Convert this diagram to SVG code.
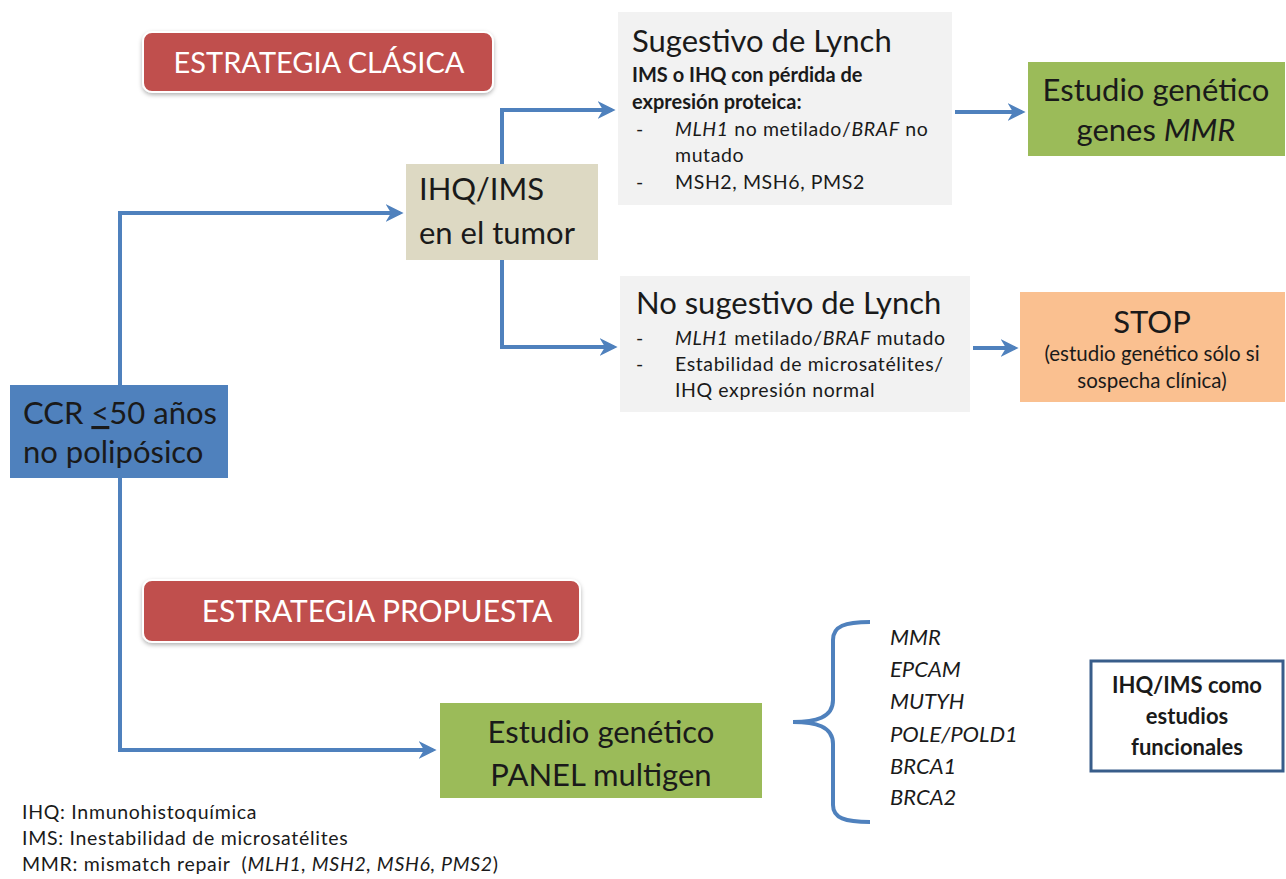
<svg xmlns="http://www.w3.org/2000/svg" width="1286" height="879" viewBox="0 0 1286 879">
<defs>
<marker id="arr" viewBox="0 0 10 10" refX="8" refY="5" markerWidth="4.5" markerHeight="4.5" orient="auto" markerUnits="strokeWidth">
<path d="M0,0 L10,5 L0,10 L3,5 Z" fill="#4f81bd"/>
</marker>
<filter id="sh" x="-5%" y="-10%" width="110%" height="130%">
<feDropShadow dx="0" dy="2" stdDeviation="2" flood-color="#000" flood-opacity="0.3"/>
</filter>
</defs>
<style>
text{font-family:Lato,"Open Sans","Liberation Sans",sans-serif;fill:#1a1a1a}
.big{font-size:31px}
.ttl{font-size:31px}
.sm{font-size:19.5px;letter-spacing:0.6px}
.bd{font-size:20px;font-weight:bold}
.gene{font-size:22px;font-style:italic}
.note{font-size:19.5px;letter-spacing:0.7px}
.ban{font-size:29px;fill:#ffffff}
.fn{font-size:22px;font-weight:bold}
.conn{fill:none;stroke:#4f81bd;stroke-width:4}
.it{font-style:italic}
</style>
<rect width="1286" height="879" fill="#ffffff"/>

<g id="connectors">
<polyline class="conn" points="120,385 120,213 400,213" marker-end="url(#arr)"/>
<polyline class="conn" points="120,478 120,750 433,750" marker-end="url(#arr)"/>
<polyline class="conn" points="502,164 502,110 612,110" marker-end="url(#arr)"/>
<polyline class="conn" points="502,260 502,347 614,347" marker-end="url(#arr)"/>
<line class="conn" x1="955" y1="112" x2="1022" y2="112" marker-end="url(#arr)"/>
<line class="conn" x1="973" y1="348" x2="1015" y2="348" marker-end="url(#arr)"/>
<path class="conn" d="M793,722 C815,722 833,718 833,700 L833,640 C833,626 845,622 870,622 M793,722 C815,722 833,726 833,744 L833,805 C833,818 845,822 870,822"/>
</g>

<g id="banner-clasica">
<rect x="143" y="32" width="350" height="60" rx="9" fill="#c0504d" stroke="#ffffff" stroke-width="2" filter="url(#sh)"/>
<text class="ban" x="319" y="73" text-anchor="middle">ESTRATEGIA CLÁSICA</text>
</g>

<g id="banner-propuesta">
<rect x="143" y="580" width="437" height="62" rx="9" fill="#c0504d" stroke="#ffffff" stroke-width="2" filter="url(#sh)"/>
<text class="ban" x="377" y="622" text-anchor="middle" style="font-size:30px">ESTRATEGIA PROPUESTA</text>
</g>

<g id="ccr">
<rect x="10" y="385" width="218" height="93" fill="#4f81bd"/>
<text class="big" x="23" y="424">CCR <tspan text-decoration="underline">&lt;</tspan>50 años</text>
<text class="big" x="23" y="463">no polipósico</text>
</g>

<g id="ihq">
<rect x="406" y="164" width="192" height="96" fill="#ddd9c3"/>
<text class="big" x="419" y="200">IHQ/IMS</text>
<text class="big" x="419" y="244">en el tumor</text>
</g>

<g id="sugestivo">
<rect x="618" y="12" width="334" height="193" fill="#f2f2f2"/>
<text class="ttl" x="632" y="52">Sugestivo de Lynch</text>
<text class="bd" x="632" y="82">IMS o IHQ con pérdida de</text>
<text class="bd" x="632" y="109">expresión proteica:</text>
<text class="sm" x="636" y="136">-</text>
<text class="sm" x="675" y="136"><tspan class="it">MLH1</tspan> no metilado/<tspan class="it">BRAF</tspan> no</text>
<text class="sm" x="675" y="162">mutado</text>
<text class="sm" x="636" y="189">-</text>
<text class="sm" x="675" y="189">MSH2, MSH6, PMS2</text>
</g>

<g id="no-sugestivo">
<rect x="620" y="276" width="350" height="136" fill="#f2f2f2"/>
<text class="ttl" x="636" y="314">No sugestivo de Lynch</text>
<text class="sm" x="636" y="345">-</text>
<text class="sm" x="675" y="345"><tspan class="it">MLH1</tspan> metilado/<tspan class="it">BRAF</tspan> mutado</text>
<text class="sm" x="636" y="371">-</text>
<text class="sm" x="675" y="371">Estabilidad de microsatélites/</text>
<text class="sm" x="675" y="397">IHQ expresión normal</text>
</g>

<g id="genes-mmr">
<rect x="1028" y="62" width="257" height="94" fill="#9bbb59"/>
<text class="big" x="1156" y="101" text-anchor="middle">Estudio genético</text>
<text class="big" x="1156" y="141" text-anchor="middle">genes <tspan class="it">MMR</tspan></text>
</g>

<g id="stop">
<rect x="1020" y="292" width="265" height="110" fill="#fac090"/>
<text class="ttl" x="1152" y="333" text-anchor="middle">STOP</text>
<text x="1152" y="361" text-anchor="middle" style="font-size:20.5px">(estudio genético sólo si</text>
<text x="1152" y="388" text-anchor="middle" style="font-size:20.5px">sospecha clínica)</text>
</g>

<g id="panel">
<rect x="440" y="703" width="322" height="95" fill="#9bbb59"/>
<text class="big" x="601" y="743" text-anchor="middle">Estudio genético</text>
<text class="big" x="601" y="786" text-anchor="middle">PANEL multigen</text>
</g>

<g id="gene-list">
<text class="gene" x="890" y="645">MMR</text>
<text class="gene" x="890" y="677">EPCAM</text>
<text class="gene" x="890" y="709">MUTYH</text>
<text class="gene" x="890" y="742">POLE/POLD1</text>
<text class="gene" x="890" y="774">BRCA1</text>
<text class="gene" x="890" y="805">BRCA2</text>
</g>

<g id="funcionales">
<rect x="1091" y="661" width="192" height="110" fill="#ffffff" stroke="#385d8a" stroke-width="3"/>
<text class="fn" x="1187" y="693" text-anchor="middle">IHQ/IMS como</text>
<text class="fn" x="1187" y="724" text-anchor="middle">estudios</text>
<text class="fn" x="1187" y="755" text-anchor="middle">funcionales</text>
</g>

<g id="legend">
<text class="note" x="22" y="819">IHQ: Inmunohistoquímica</text>
<text class="note" x="22" y="845">IMS: Inestabilidad de microsatélites</text>
<text class="note" x="22" y="871">MMR: mismatch repair &#160;(<tspan class="it">MLH1, MSH2, MSH6, PMS2</tspan>)</text>
</g>
</svg>
